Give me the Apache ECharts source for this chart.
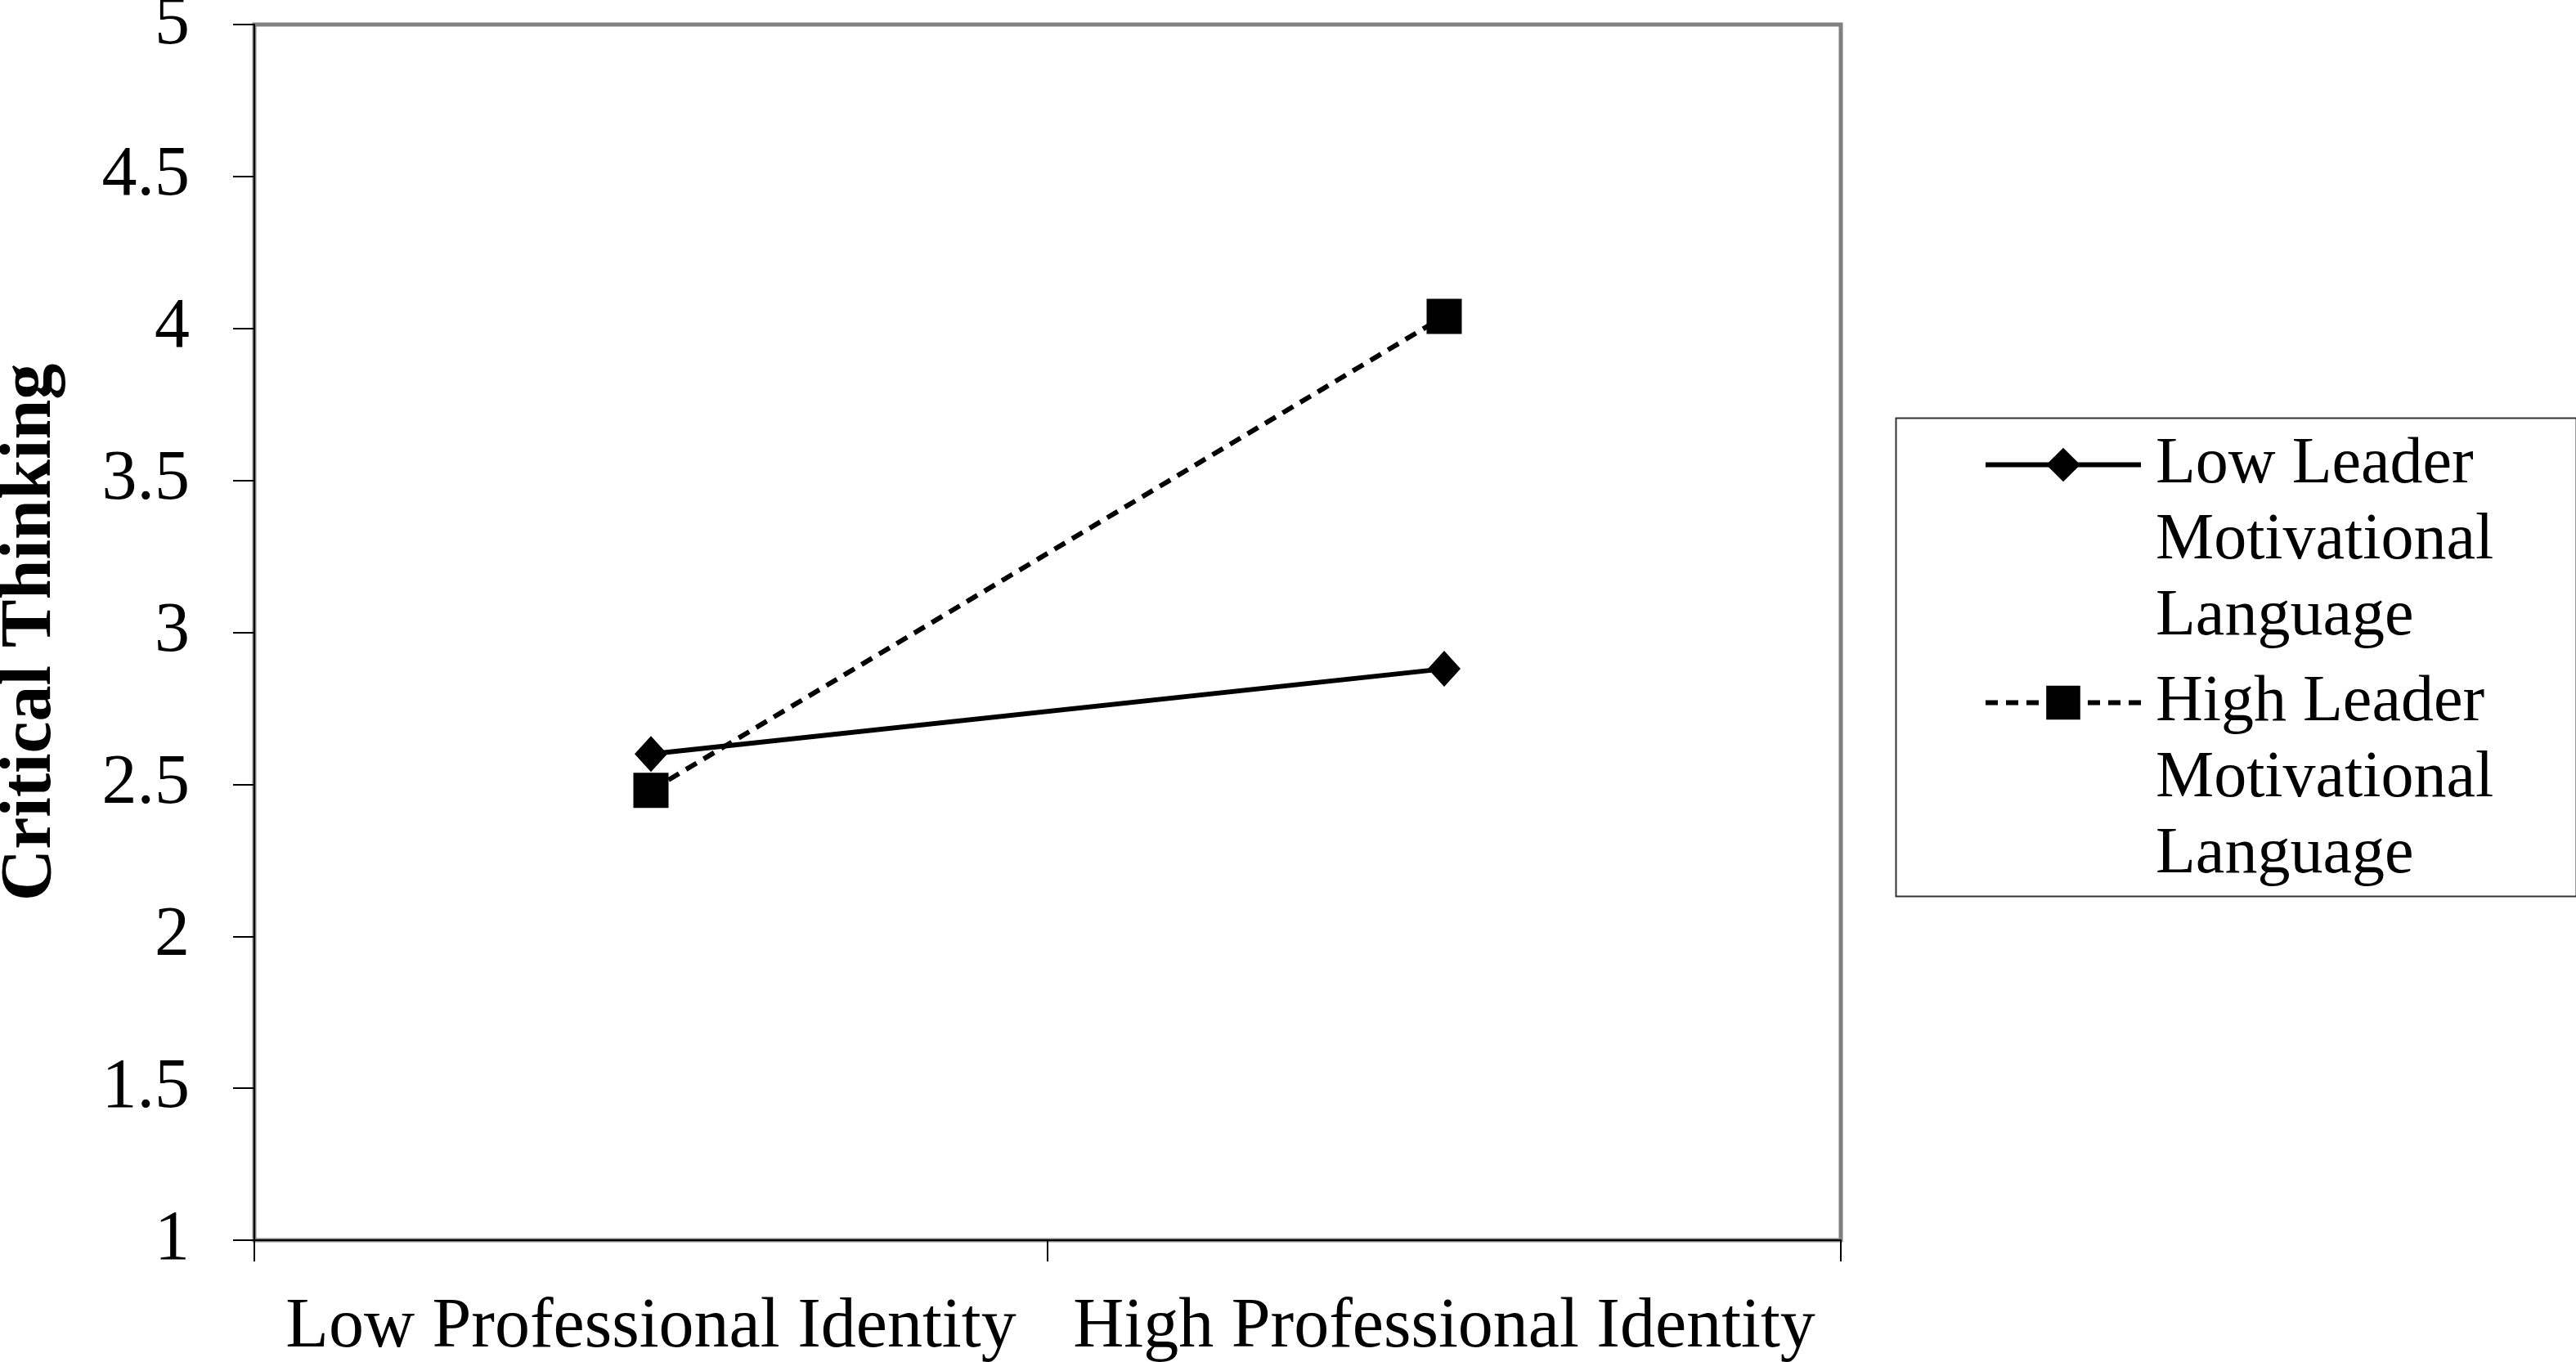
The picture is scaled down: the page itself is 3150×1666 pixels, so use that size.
<!DOCTYPE html>
<html>
<head>
<meta charset="utf-8">
<script src="https://cdn.jsdelivr.net/npm/echarts@6/dist/echarts.min.js"></script>
<style>
  html, body { margin: 0; padding: 0; background: #fff; }
  #chart { width: 3150px; height: 1666px; }
</style>
</head>
<body>
<div id="chart"></div>
<script>
var categories = ['Low Professional Identity', 'High Professional Identity'];
var seriesNames = ['Low Leader Motivational Language', 'High Leader Motivational Language'];
var legendLabels = ['Low Leader\nMotivational\nLanguage', 'High Leader\nMotivational\nLanguage'];
var lowLeader = [2.60, 2.88];
var highLeader = [2.48, 4.04];
var yMin = 1, yMax = 5, yStep = 0.5;

var font = 'Liberation Serif';
var chart = echarts.init(document.getElementById('chart'));

var option = {
    animation: false,
    backgroundColor: '#fff',
    grid: {
        left: 311,
        right: 899,
        top: 30,
        bottom: 149,
        outerBoundsMode: 'none',
        show: true,
        borderColor: '#808080',
        borderWidth: 5
    },
    legend: {
        orient: 'vertical',
        left: 2425,
        top: 336,
        padding: 0,
        itemWidth: 190,
        itemHeight: 52,
        itemGap: -174,
        data: seriesNames,
        lineStyle: { width: 6 },
        // two blank lines on top keep the first text line level with the icon
        formatter: function (name) {
            return '\n\n' + legendLabels[seriesNames.indexOf(name)];
        },
        textStyle: {
            fontFamily: font,
            fontSize: 80,
            lineHeight: 93,
            color: '#000',
            padding: [0, 0, 0, 13]
        }
    },
    graphic: [{
        type: 'rect',
        left: 2316,
        top: 509,
        shape: { width: 832, height: 585 },
        style: { fill: 'none', stroke: '#333', lineWidth: 2 },
        z: 0
    }],
    xAxis: {
        type: 'category',
        data: categories,
        boundaryGap: true,
        axisLine: { lineStyle: { color: '#000', width: 2 } },
        axisTick: { show: true, length: 26, lineStyle: { color: '#000', width: 2 } },
        axisLabel: {
            interval: 0,
            hideOverlap: false,
            margin: 64,
            fontFamily: font,
            fontSize: 86,
            color: '#000'
        }
    },
    yAxis: {
        type: 'value',
        min: yMin,
        max: yMax,
        interval: yStep,
        name: 'Critical Thinking',
        nameLocation: 'middle',
        nameGap: 229,
        nameRotate: 90,
        nameTextStyle: {
            fontFamily: font,
            fontSize: 88,
            fontWeight: 'bold',
            color: '#000'
        },
        axisLine: { show: true, lineStyle: { color: '#000', width: 2 } },
        axisTick: { show: true, length: 26, lineStyle: { color: '#000', width: 2 } },
        splitLine: { show: false },
        axisLabel: {
            margin: 79,
            fontFamily: font,
            fontSize: 86,
            color: '#000'
        }
    },
    series: [
        {
            name: seriesNames[0],
            type: 'line',
            data: lowLeader,
            symbol: 'diamond',
            symbolSize: [40, 44],
            itemStyle: { color: '#000' },
            lineStyle: { color: '#000', width: 6, type: 'solid' }
        },
        {
            name: seriesNames[1],
            type: 'line',
            data: highLeader,
            symbol: 'rect',
            symbolSize: 43,
            itemStyle: { color: '#000' },
            lineStyle: { color: '#000', width: 6, type: [15, 10] }
        }
    ]
};
chart.setOption(option);
</script>
</body>
</html>
